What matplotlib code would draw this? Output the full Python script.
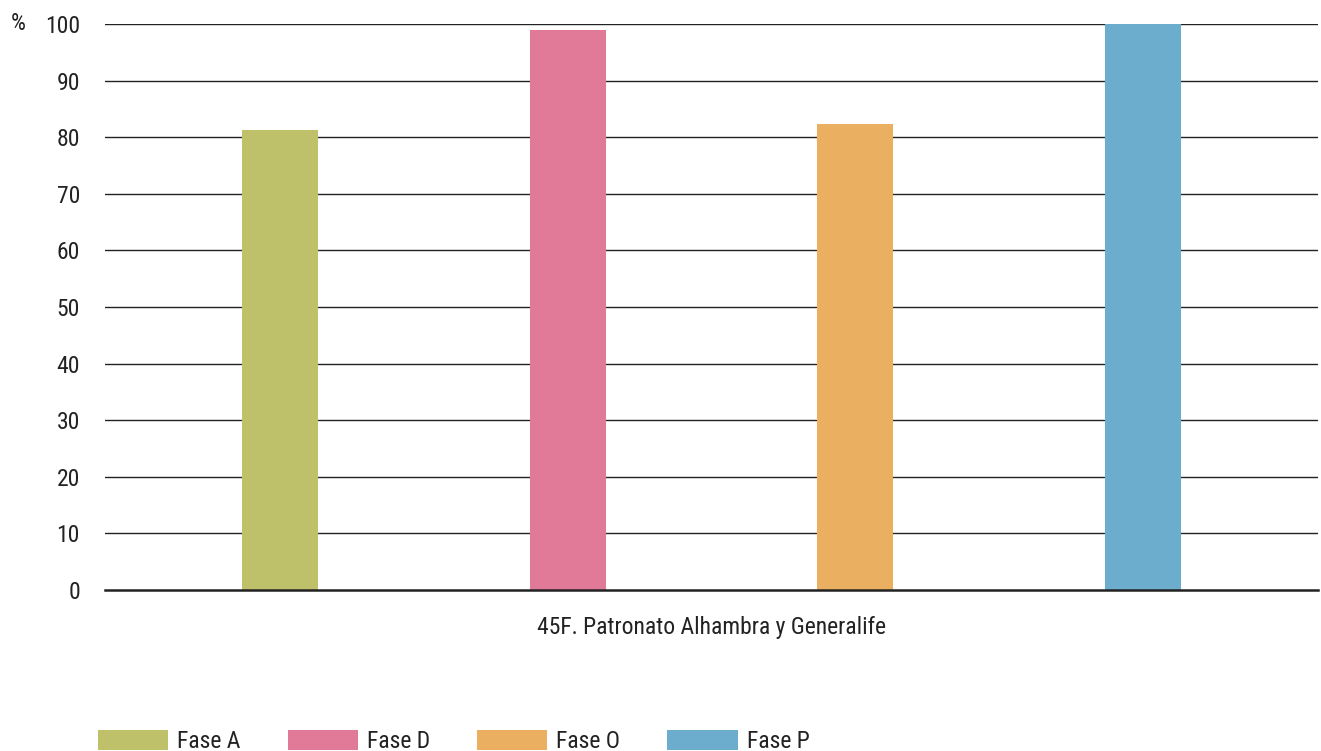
import matplotlib
matplotlib.use("Agg")
import matplotlib.pyplot as plt
from matplotlib import font_manager as fm
import numpy as np

categories = ["45F. Patronato Alhambra y Generalife"]
series = ["Fase A", "Fase D", "Fase O", "Fase P"]
values = [81.3, 98.9, 82.3, 100.0]
colors = ["#BEC16A", "#E17A98", "#EAAF60", "#6CADCE"]
yticks = [0, 10, 20, 30, 40, 50, 60, 70, 80, 90, 100]

avail = {f.name for f in fm.fontManager.ttflist}
fams = [f for f in ["Roboto Condensed", "Roboto", "DejaVu Sans"] if f in avail]
plt.rcParams['font.family'] = fams

FS = 17
fig = plt.figure(figsize=(13.21, 7.51), dpi=100)
ax = fig.add_axes([105/1321, 1-590/751, (1318-105)/1321, (590-24)/751])

n = len(series)
spacing = 0.237
width = 0.0627
for i, (s, v, c) in enumerate(zip(series, values, colors)):
    ax.bar(0 + (i - (n-1)/2)*spacing, v, width=width, color=c, label=s, zorder=3)

ax.set_xlim(-0.5, 0.5)
ax.set_ylim(0, 100)
ax.set_yticks(yticks)
ax.set_yticklabels([str(t) for t in yticks], fontsize=FS, color="#222222")
ax.set_xticks([0])
ax.set_xticklabels(categories, fontsize=FS, color="#222222")
ax.tick_params(axis='y', length=0, pad=18)
ax.tick_params(axis='x', length=0, pad=19)
for t in yticks[1:]:
    ax.axhline(t, color="#222222", lw=1.0, zorder=1)
for sp in ["top", "right", "left"]:
    ax.spines[sp].set_visible(False)
ax.spines["bottom"].set_color("#222222")
ax.spines["bottom"].set_linewidth(1.8)
ax.spines["bottom"].set_zorder(4)

fig.text(18/1321, 1-24/751, "%", fontsize=FS, color="#222222", ha="center", va="center")

leg = fig.legend(loc="upper left", bbox_to_anchor=(98/1321, 1-730/751), ncol=4, frameon=False,
                 fontsize=FS, handlelength=2.97, handleheight=0.9, handletextpad=0.38,
                 columnspacing=2.0, borderpad=0, borderaxespad=0)
for t in leg.get_texts():
    t.set_color("#222222")

fig.savefig("out.png", dpi=100)
